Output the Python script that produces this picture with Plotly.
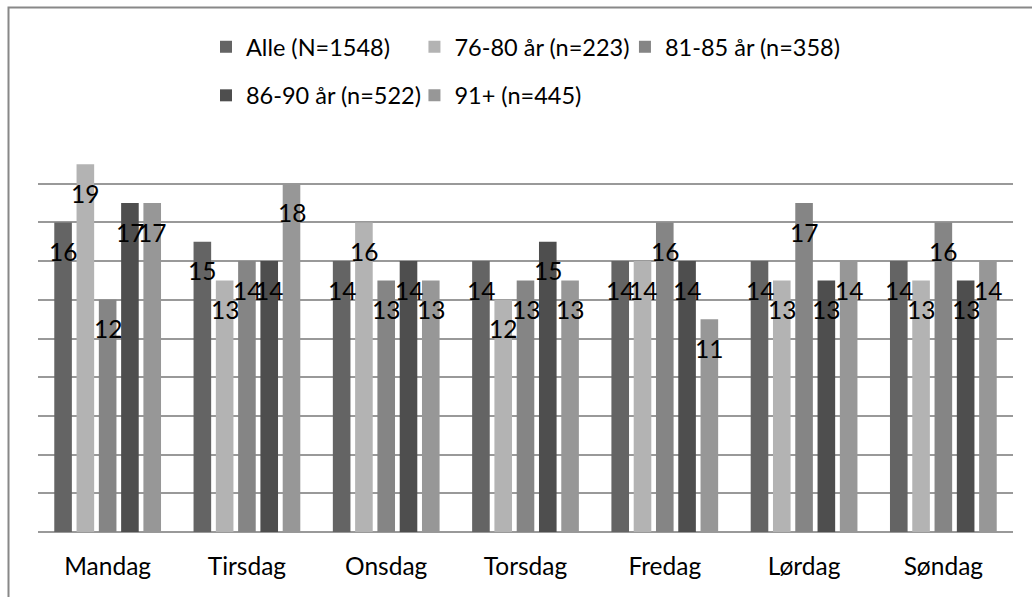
import plotly.graph_objects as go

# Weekdays on the category axis
days = ["Mandag", "Tirsdag", "Onsdag", "Torsdag", "Fredag", "Lørdag", "Søndag"]

# Share per weekday for each age group
series_names = [
    "Alle (N=1548)",
    "76-80 år (n=223)",
    "81-85 år (n=358)",
    "86-90 år (n=522)",
    "91+ (n=445)",
]
alle = [16, 15, 14, 14, 14, 14, 14]
age_76_80 = [19, 13, 16, 12, 14, 13, 13]
age_81_85 = [12, 14, 13, 13, 16, 17, 16]
age_86_90 = [17, 14, 14, 15, 14, 13, 13]
age_91 = [17, 18, 13, 13, 11, 14, 14]
series_values = [alle, age_76_80, age_81_85, age_86_90, age_91]

colors = ["#646464", "#b3b3b3", "#858585", "#4e4e4e", "#979797"]
# legend laid out as three columns of up to two rows
legend_ids = ["legend", "legend2", "legend3", "legend", "legend2"]

FONT = "Lato"
FS = 24.5
LEGEND_FS = 23.5
BARGAP = 0.2

fig = go.Figure()
for k, (name, vals, col, lg) in enumerate(zip(series_names, series_values, colors, legend_ids)):
    fig.add_trace(go.Bar(
        x=days, y=vals, name=name, marker=dict(color=col, line=dict(width=0)),
        legend=lg, legendgroup=f"g{k}",
    ))

# Value labels centred on each bar, a little below its top
n = len(series_values)
slot = (1 - BARGAP) / n
annotations = []
for j, vals in enumerate(series_values):
    for i, v in enumerate(vals):
        annotations.append(dict(
            x=i + (j - (n - 1) / 2) * slot, y=v, xref="x", yref="y",
            text=str(v), showarrow=False, yanchor="middle", xanchor="center",
            yshift=-29, font=dict(family=FONT, size=FS, color="#000000"),
        ))

legend_common = dict(
    orientation="v", xanchor="left", yanchor="top", y=1.3101,
    font=dict(family=FONT, size=LEGEND_FS, color="#000000"),
    itemwidth=30, tracegroupgap=15,
    bgcolor="rgba(0,0,0,0)", traceorder="grouped",
    itemclick=False, itemdoubleclick=False,
)

fig.update_layout(
    width=1032, height=597,
    margin=dict(l=38, r=19, t=145, b=65),
    paper_bgcolor="white", plot_bgcolor="white",
    barmode="group", bargap=BARGAP, bargroupgap=0.21,
    font=dict(family=FONT, size=FS, color="#000000"),
    showlegend=True,
    legend=dict(x=0.1723, **legend_common),
    legend2=dict(x=0.3861, **legend_common),
    legend3=dict(x=0.602, **legend_common),
    annotations=annotations,
    xaxis=dict(
        showgrid=False, showline=False, ticks="",
        tickfont=dict(family=FONT, size=FS, color="#000000"),
        ticklabelstandoff=17,
    ),
    yaxis=dict(
        range=[0, 20], dtick=2, showticklabels=False, ticks="",
        showgrid=True, gridcolor="#999999", gridwidth=2,
        zeroline=True, zerolinecolor="#999999", zerolinewidth=2,
        showline=False,
    ),
    shapes=[dict(
        type="rect", xref="paper", yref="paper",
        xsizemode="pixel", ysizemode="pixel", xanchor=0, yanchor=0,
        x0=-29.5, x1=1100, y0=-200, y1=524.5,
        line=dict(color="#888888", width=2), fillcolor="rgba(0,0,0,0)",
        layer="below",
    )],
)

fig.write_html("out.html")
